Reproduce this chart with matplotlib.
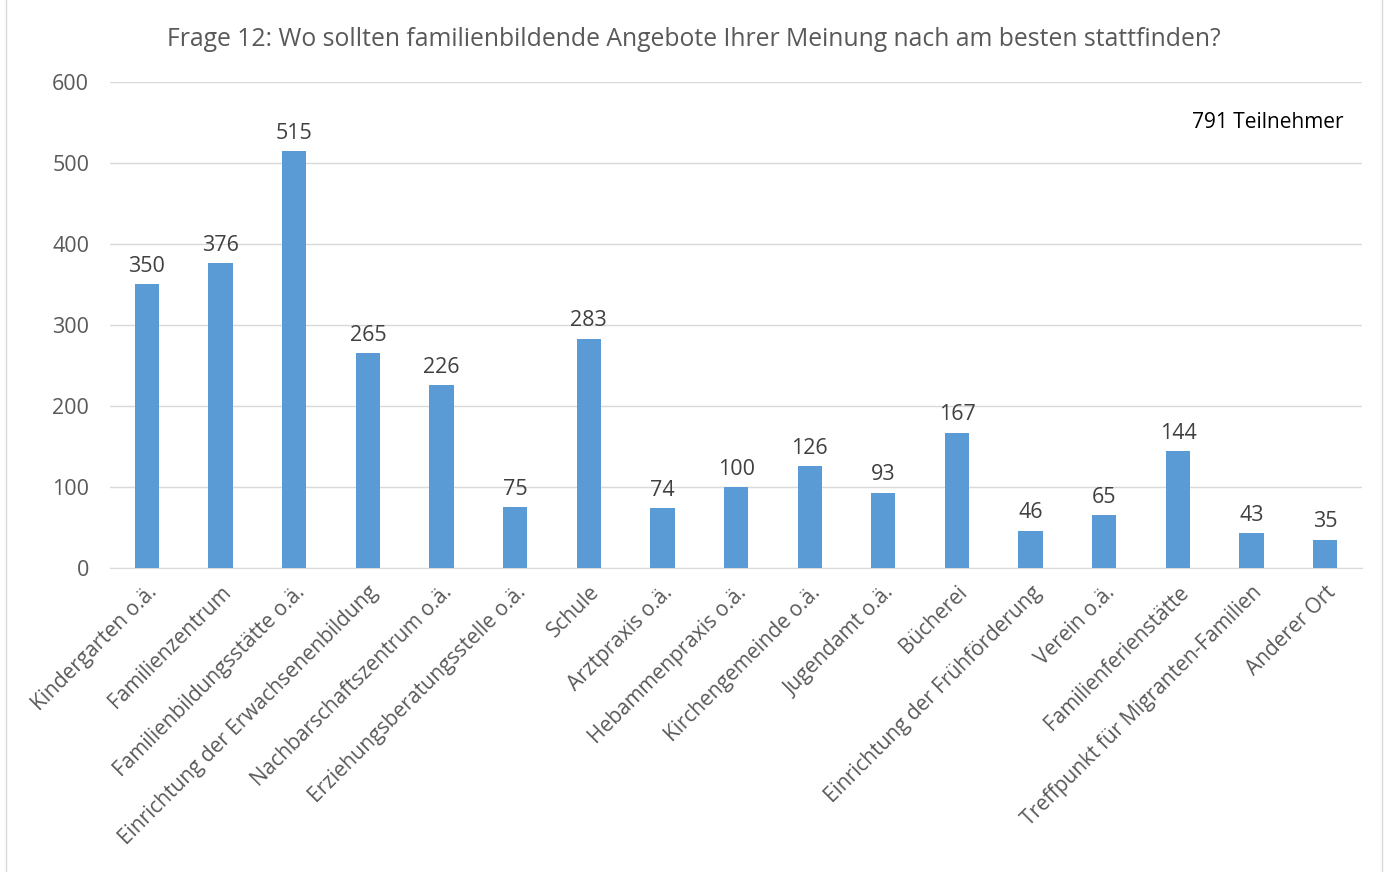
import matplotlib
matplotlib.use("Agg")
import matplotlib.pyplot as plt
from matplotlib.patches import Rectangle

categories = ["Kindergarten o.ä.", "Familienzentrum", "Familienbildungsstätte o.ä.",
              "Einrichtung der Erwachsenenbildung", "Nachbarschaftszentrum o.ä.",
              "Erziehungsberatungsstelle o.ä.", "Schule", "Arztpraxis o.ä.",
              "Hebammenpraxis o.ä.", "Kirchengemeinde o.ä.", "Jugendamt o.ä.",
              "Bücherei", "Einrichtung der Frühförderung", "Verein o.ä.",
              "Familienferienstätte", "Treffpunkt für Migranten-Familien", "Anderer Ort"]
values = [350, 376, 515, 265, 226, 75, 283, 74, 100, 126, 93, 167, 46, 65, 144, 43, 35]
yticks = [0, 100, 200, 300, 400, 500, 600]
title = "Frage 12: Wo sollten familienbildende Angebote Ihrer Meinung nach am besten stattfinden?"
note = "791 Teilnehmer"

plt.rcParams['font.family'] = ['Open Sans', 'DejaVu Sans']
fig = plt.figure(figsize=(13.88, 8.72), dpi=100)
fig.patches.append(Rectangle((0.004, -0.01), 0.992, 1.02, transform=fig.transFigure,
                             fill=False, edgecolor='#D9D9D9', linewidth=1))
ax = fig.add_axes([0.0793, 0.3486, 0.902, 0.5574])
x = range(len(categories))
ax.bar(x, values, width=0.33, color='#5B9BD5', zorder=3)
for xi, v in zip(x, values):
    ax.text(xi, v + 9, str(v), ha='center', va='bottom', fontsize=15.5, color='#404040')
ax.set_xlim(-0.5, len(categories) - 0.5)
ax.set_ylim(0, 600)
ax.set_yticks(yticks)
ax.set_yticklabels([str(t) for t in yticks], fontsize=15.5, color='#595959')
ax.grid(axis='y', color='#D9D9D9', linewidth=1, zorder=0)
for s in ['top', 'right', 'left']:
    ax.spines[s].set_visible(False)
ax.spines['bottom'].set_color('#D9D9D9')
ax.tick_params(axis='both', length=0)
ax.tick_params(axis='y', pad=15)
ax.tick_params(axis='x', pad=10)
ax.set_xticks(list(x))
ax.set_xticklabels(categories, rotation=45, ha='right', rotation_mode='anchor',
                   fontsize=15, color='#595959')
fig.text(0.5, 0.955, title, ha='center', va='center', fontsize=17.8, color='#595959')
ax.text(0.985, 0.916, note, transform=ax.transAxes, ha='right', va='center', fontsize=15, color='black')
fig.savefig("out.png", dpi=100)
